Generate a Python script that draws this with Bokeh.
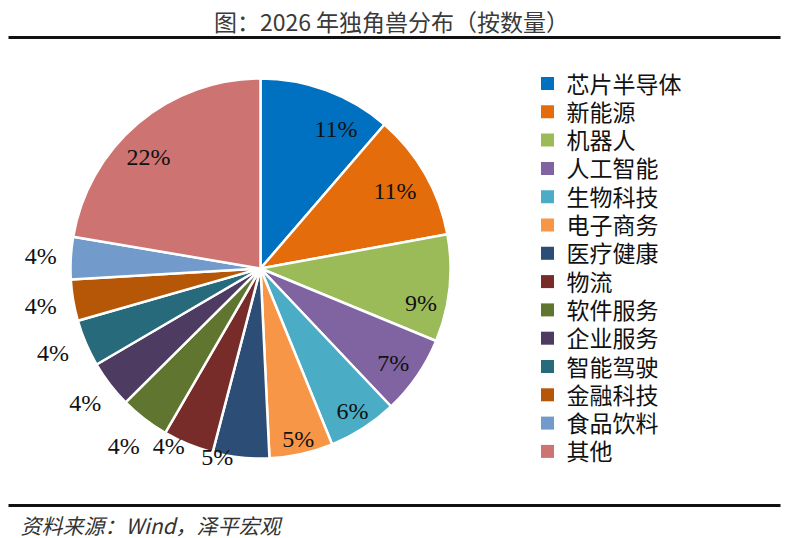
import math
from bokeh.plotting import figure
from bokeh.models import ColumnDataSource, Range1d
from bokeh.core.properties import value
from bokeh.embed import file_html
from bokeh.resources import INLINE

# ---- data ----
categories = ["芯片半导体", "新能源", "机器人", "人工智能", "生物科技", "电子商务", "医疗健康",
              "物流", "软件服务", "企业服务", "智能驾驶", "金融科技", "食品饮料", "其他"]
shares = [11.3, 10.8, 9.1, 6.7, 5.9, 5.4, 4.8, 4.3, 4.2, 4.0, 4.0, 3.5, 3.6, 22.3]
colors = ["#0070C0", "#E46C0A", "#9BBB59", "#8064A2", "#4BACC6", "#F79646", "#2C4D75",
          "#772C2A", "#5F7530", "#4D3B62", "#276A7C", "#B65708", "#729ACA", "#CD7371"]
title_text = "图：2026 年独角兽分布（按数量）"
source_text = "资料来源：Wind，泽平宏观"

# ---- layout (label placement, not data) ----
label_radius = [159, 155, 164, 163, 170, 175, 193, 200, 224, 221, 224, 223, 220, 158]
label_angle_shift = [8, 0, 6, 1, 0, 0, 7, 5, 0, 0, 1, 0, 0, -5]

W, H = 788, 538
def X(sx): return sx
def Y(sy): return H - sy

cx, cy, R = X(260), Y(268), 190

total = sum(shares)
starts, ends, lx, ly, labels = [], [], [], [], []
cum = 0.0
for i, s in enumerate(shares):
    f0 = cum / total
    cum += s
    f1 = cum / total
    starts.append(math.pi / 2 - f0 * 2 * math.pi)
    ends.append(math.pi / 2 - f1 * 2 * math.pi)
    mid = (f0 + f1) / 2 * 360 + label_angle_shift[i]
    th = math.radians(mid)
    lx.append(cx + label_radius[i] * math.sin(th))
    ly.append(cy + label_radius[i] * math.cos(th))
    labels.append(f"{round(s / total * 100):.0f}%")

p = figure(width=W, height=H, x_range=Range1d(0, W), y_range=Range1d(0, H),
           x_axis_type=None, y_axis_type=None, toolbar_location=None,
           output_backend="svg", min_border=0)
p.outline_line_color = None
p.background_fill_color = "white"

src = ColumnDataSource(dict(start=starts, end=ends, color=colors, cat=categories))
p.wedge(x=cx, y=cy, radius=R, start_angle="start", end_angle="end", direction="clock",
        fill_color="color", line_color="white", line_width=2.5, source=src)

p.text(x=lx, y=ly, text=labels, text_font=value("Liberation Serif"), text_font_size="24px",
       text_color="#111111", text_align="center", text_baseline="middle")

# legend
ly0 = [Y(83 + i * 28.3) for i in range(len(categories))]
p.scatter(x=[X(547)] * len(categories), y=ly0, marker="square", size=13,
          fill_color=colors, line_color=None)
p.text(x=[X(566)] * len(categories), y=[v + 1 for v in ly0], text=categories,
       text_font=value("Noto Sans CJK SC"), text_font_size="23px", text_color="#111111",
       text_align="left", text_baseline="middle")

# title and rules
p.text(x=[X(391)], y=[Y(20)], text=[title_text], text_font=value("Noto Sans CJK SC"),
       text_font_size="23px", text_color="#3a3a3a", text_align="center", text_baseline="middle")
p.segment(x0=[X(8), X(8)], y0=[Y(37), Y(505)], x1=[X(780), X(780)], y1=[Y(37), Y(505)],
          line_color="#111111", line_width=3)
p.text(x=[X(20)], y=[Y(524)], text=[source_text], text_font=value("Noto Sans CJK SC"),
       text_font_size="21px", text_font_style="italic", text_color="#333333",
       text_align="left", text_baseline="middle")

open("out.html", "w").write(file_html(p, INLINE))
